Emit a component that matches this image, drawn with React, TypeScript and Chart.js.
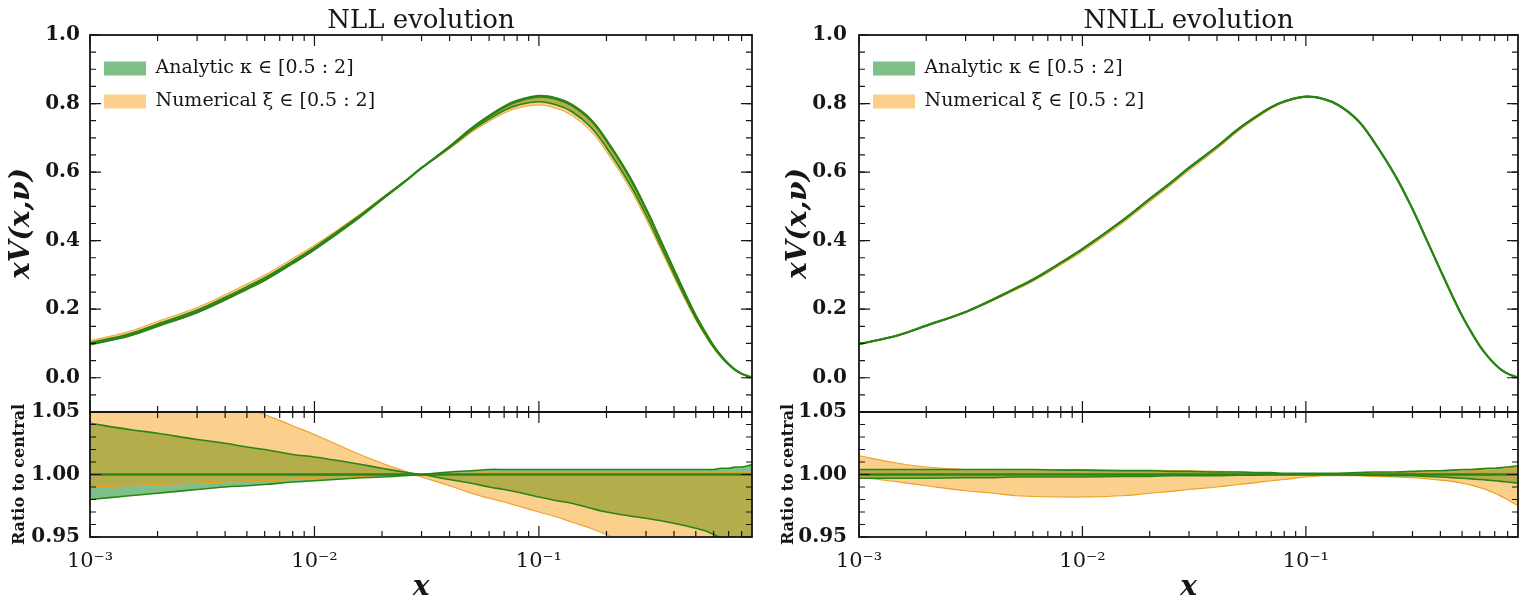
import React, { useEffect, useRef } from 'react';
import { Chart, registerables } from 'chart.js';

// ---------------- data ----------------
const X = [0.001, 0.0015, 0.002, 0.003, 0.004, 0.005, 0.006, 0.008, 0.01, 0.015, 0.02, 0.025, 0.03, 0.04, 0.05, 0.06, 0.07, 0.08, 0.1, 0.12, 0.14, 0.17, 0.2, 0.25, 0.3, 0.35, 0.4, 0.45, 0.5, 0.55, 0.6, 0.65, 0.7, 0.75, 0.8, 0.85, 0.89];

// central xV(x, nu)
const CENTRAL = [0.098, 0.124, 0.152, 0.192, 0.229, 0.26, 0.286, 0.335, 0.375, 0.457, 0.521, 0.57, 0.612, 0.674, 0.726, 0.762, 0.789, 0.806, 0.82, 0.813, 0.795, 0.752, 0.692, 0.592, 0.492, 0.397, 0.314, 0.242, 0.181, 0.133, 0.093, 0.063, 0.04, 0.023, 0.012, 0.005, 0.001];

// ratio-to-central band edges, NLL
const NLL_ANALYTIC_LO = [0.98, 0.983, 0.985, 0.988, 0.99, 0.991, 0.992, 0.994, 0.995, 0.997, 0.998, 0.999, 1.0, 1.002, 1.003, 1.004, 1.004, 1.004, 1.004, 1.004, 1.004, 1.004, 1.004, 1.004, 1.004, 1.004, 1.004, 1.004, 1.004, 1.004, 1.004, 1.005, 1.005, 1.006, 1.006, 1.007, 1.008];
const NLL_ANALYTIC_HI = [1.041, 1.036, 1.033, 1.028, 1.025, 1.022, 1.02, 1.016, 1.014, 1.009, 1.005, 1.002, 1.0, 0.996, 0.993, 0.99, 0.988, 0.986, 0.982, 0.979, 0.977, 0.973, 0.97, 0.967, 0.965, 0.963, 0.961, 0.959, 0.957, 0.955, 0.952, 0.949, 0.946, 0.943, 0.94, 0.937, 0.934];
const NLL_NUMERICAL_LO = [0.99, 0.991, 0.992, 0.993, 0.994, 0.995, 0.995, 0.996, 0.997, 0.998, 0.999, 0.9995, 1.0, 1.001, 1.001, 1.002, 1.002, 1.002, 1.002, 1.002, 1.002, 1.002, 1.002, 1.002, 1.002, 1.002, 1.002, 1.002, 1.002, 1.002, 1.002, 1.002, 1.002, 1.002, 1.002, 1.002, 1.002];
const NLL_NUMERICAL_HI = [1.105, 1.092, 1.082, 1.069, 1.06, 1.053, 1.048, 1.039, 1.032, 1.018, 1.009, 1.003, 0.998, 0.991, 0.985, 0.981, 0.978, 0.975, 0.97, 0.966, 0.962, 0.957, 0.952, 0.946, 0.941, 0.937, 0.933, 0.93, 0.927, 0.924, 0.921, 0.918, 0.915, 0.912, 0.909, 0.906, 0.904];

// ratio-to-central band edges, NNLL
const NNLL_ANALYTIC_LO = [0.997, 0.997, 0.997, 0.9975, 0.9975, 0.998, 0.998, 0.998, 0.998, 0.9985, 0.9985, 0.999, 0.999, 0.999, 0.9995, 0.9995, 1.0, 1.0, 1.0, 1.0, 1.0, 0.9995, 0.9995, 0.999, 0.999, 0.9985, 0.998, 0.9975, 0.997, 0.9965, 0.996, 0.9955, 0.995, 0.9945, 0.994, 0.9935, 0.993];
const NNLL_ANALYTIC_HI = [1.004, 1.004, 1.004, 1.004, 1.004, 1.004, 1.004, 1.0035, 1.0035, 1.003, 1.003, 1.0025, 1.0025, 1.002, 1.002, 1.0015, 1.0015, 1.001, 1.001, 1.001, 1.001, 1.0015, 1.002, 1.002, 1.0025, 1.003, 1.003, 1.0035, 1.004, 1.004, 1.0045, 1.005, 1.005, 1.0055, 1.006, 1.0065, 1.007];
const NNLL_NUMERICAL_LO = [0.998, 0.994, 0.991, 0.987, 0.985, 0.983, 0.9825, 0.982, 0.982, 0.983, 0.985, 0.9865, 0.988, 0.99, 0.992, 0.9935, 0.995, 0.996, 0.998, 0.999, 0.999, 0.999, 0.9985, 0.998, 0.9975, 0.9965, 0.9955, 0.9945, 0.993, 0.9915, 0.9895, 0.9875, 0.985, 0.9825, 0.98, 0.977, 0.975];
const NNLL_NUMERICAL_HI = [1.015, 1.009, 1.006, 1.004, 1.004, 1.004, 1.004, 1.004, 1.004, 1.0035, 1.0035, 1.003, 1.003, 1.0025, 1.002, 1.0015, 1.001, 1.0005, 1.0, 1.0, 1.0005, 1.001, 1.001, 1.0015, 1.002, 1.002, 1.0025, 1.0025, 1.003, 1.003, 1.0035, 1.0035, 1.004, 1.004, 1.0045, 1.0045, 1.005];

const X_MIN = 0.001;
const X_MAX = 0.89;
const X_TICKS = [0.001, 0.01, 0.1];
const X_TICK_LABELS = ['10\u207B\u00B3', '10\u207B\u00B2', '10\u207B\u00B9'];
const TOP_Y_TICKS = [0, 0.2, 0.4, 0.6, 0.8, 1.0];
const RATIO_Y_TICKS = [0.95, 1.0, 1.05];
const TOP_Y_RANGE = [-0.1, 1.0];
const RATIO_Y_RANGE = [0.95, 1.05];
const LEGEND_LABELS = ['Analytic \u03BA \u2208 [0.5 : 2]', 'Numerical \u03BE \u2208 [0.5 : 2]'];
const PANEL_TITLES = ['NLL evolution', 'NNLL evolution'];

// ---------------- styles ----------------
const GREEN_FILL = 'rgba(0,130,20,0.5)';
const ORANGE_FILL = 'rgba(245,150,0,0.45)';
const GREEN_LINE = '#2a8516';
const ORANGE_LINE = '#f0a22a';
const INK = '#161616';

// clip each dataset (incl. its fill) to its own sub-plot
const subplotClip = {
  id: 'subplotClip',
  beforeDatasetDraw(chart: any, args: any) {
    const meta = args.meta;
    const xs = chart.scales[meta.xAxisID];
    const ys = chart.scales[meta.yAxisID];
    const ctx = chart.ctx;
    ctx.save();
    ctx.beginPath();
    ctx.rect(xs.left, ys.top, xs.right - xs.left, ys.bottom - ys.top);
    ctx.clip();
  },
  afterDatasetDraw(chart: any) {
    chart.ctx.restore();
  },
};
Chart.register(subplotClip as any);
Chart.register(...registerables);
Chart.defaults.font.family = '"DejaVu Serif", serif';
Chart.defaults.color = INK;

const frameTicks = {
  id: 'frameTicks',
  afterDraw(chart: any) {
    const ctx = chart.ctx;
    const xs = chart.scales.x;
    const xMinor: number[] = [];
    for (let d = -3; d <= 0; d++) {
      for (let k = 2; k <= 9; k++) {
        const v = k * Math.pow(10, d);
        if (v > xs.min && v < xs.max) xMinor.push(v);
      }
    }
    const subplots = [
      { s: chart.scales.y, major: TOP_Y_TICKS, step: 0.05 },
      { s: chart.scales.yr, major: RATIO_Y_TICKS, step: 0.01 },
    ];
    ctx.save();
    ctx.strokeStyle = INK;
    for (const { s, major, step } of subplots) {
      const L = xs.left, R = xs.right, T = s.top, B = s.bottom;
      ctx.lineWidth = 1.2;
      const vt = (px: number, len: number) => {
        ctx.beginPath();
        ctx.moveTo(px, B); ctx.lineTo(px, B - len);
        ctx.moveTo(px, T); ctx.lineTo(px, T + len);
        ctx.stroke();
      };
      const ht = (py: number, len: number) => {
        ctx.beginPath();
        ctx.moveTo(L, py); ctx.lineTo(L + len, py);
        ctx.moveTo(R, py); ctx.lineTo(R - len, py);
        ctx.stroke();
      };
      for (const v of X_TICKS) vt(xs.getPixelForValue(v), 11);
      for (const v of xMinor) vt(xs.getPixelForValue(v), 6);
      const n = Math.round((s.max - s.min) / step);
      for (let i = 0; i <= n; i++) ht(s.getPixelForValue(s.min + i * step), 6);
      for (const v of major) ht(s.getPixelForValue(v), 11);
      ctx.lineWidth = 1.8;
      ctx.strokeRect(L, T, R - L, B - T);
    }
    ctx.restore();
  },
};

type PanelProps = {
  title: string;
  analytic: [number[], number[]];
  numerical: [number[], number[]];
  left: number;
  width: number;
  yWidth: number;
  padRight: number;
  yTitlePad: number;
  rTitlePad: number;
  tickPad: number;
};

function Panel(p: PanelProps) {
  const ref = useRef<HTMLCanvasElement | null>(null);
  useEffect(() => {
    const canvas = ref.current;
    if (!canvas) return;
    const pts = (vals: number[]) => X.map((x, i) => ({ x, y: vals[i] }));
    const scaled = (r: number[]) => X.map((x, i) => ({ x, y: CENTRAL[i] * r[i] }));
    const base: any = { pointRadius: 0, tension: 0.4, fill: false };
    const [aLo, aHi] = p.analytic;
    const [nLo, nHi] = p.numerical;
    const ratioCentral = [{ x: X[0], y: 1 }, { x: X[X.length - 1], y: 1 }];
    const datasets: any[] = [
      // ratio sub-plot
      { ...base, yAxisID: 'yr', data: pts(aLo), borderWidth: 0, borderColor: 'transparent', order: 100 },
      { ...base, yAxisID: 'yr', data: pts(aHi), borderWidth: 0, borderColor: 'transparent', fill: '-1', backgroundColor: GREEN_FILL, order: 99 },
      { ...base, yAxisID: 'yr', data: pts(nLo), borderWidth: 1.2, borderColor: ORANGE_LINE, order: 98 },
      { ...base, yAxisID: 'yr', data: pts(nHi), borderWidth: 1.2, borderColor: ORANGE_LINE, fill: '-1', backgroundColor: ORANGE_FILL, order: 97 },
      { ...base, yAxisID: 'yr', data: pts(aLo), borderWidth: 1.6, borderColor: GREEN_LINE, order: 96 },
      { ...base, yAxisID: 'yr', data: pts(aHi), borderWidth: 1.6, borderColor: GREEN_LINE, order: 95 },
      { ...base, yAxisID: 'yr', data: ratioCentral, borderWidth: 2.6, borderColor: GREEN_LINE, order: 94 },
      // main sub-plot
      { ...base, yAxisID: 'y', data: scaled(aLo), borderWidth: 0, borderColor: 'transparent', order: 90 },
      { ...base, yAxisID: 'y', data: scaled(aHi), borderWidth: 0, borderColor: 'transparent', fill: '-1', backgroundColor: GREEN_FILL, order: 89 },
      { ...base, yAxisID: 'y', data: scaled(nLo), borderWidth: 1, borderColor: ORANGE_LINE, order: 88 },
      { ...base, yAxisID: 'y', data: scaled(nHi), borderWidth: 1, borderColor: ORANGE_LINE, fill: '-1', backgroundColor: ORANGE_FILL, order: 87 },
      { ...base, yAxisID: 'y', data: scaled(aLo), borderWidth: 1.6, borderColor: GREEN_LINE, order: 86 },
      { ...base, yAxisID: 'y', data: scaled(aHi), borderWidth: 1.6, borderColor: GREEN_LINE, order: 85 },
      { ...base, yAxisID: 'y', data: pts(CENTRAL), borderWidth: 2.2, borderColor: GREEN_LINE, order: 84 },
    ];
    const legendColors = [GREEN_FILL, ORANGE_FILL];
    const chart = new Chart(canvas, {
      type: 'line',
      data: { datasets },
      options: {
        responsive: false,
        animation: false,
        events: [],
        layout: { padding: { left: 0, right: p.padRight, top: 0, bottom: 0 } },
        plugins: {
          tooltip: { enabled: false },
          title: {
            display: true,
            text: p.title,
            fullSize: false,
            color: INK,
            font: { size: 26, weight: 'normal', lineHeight: 1 },
            padding: { top: 8, bottom: 1 },
          },
          legend: {
            position: 'chartArea',
            align: 'start',
            title: { display: true, text: '', padding: { top: 36, bottom: 0 }, font: { size: 9, lineHeight: 1 } },
            labels: {
              boxWidth: 42,
              boxHeight: 14,
              padding: 14,
              color: INK,
              font: { size: 19 },
              generateLabels: () =>
                LEGEND_LABELS.map((t, i) => ({
                  text: t,
                  fillStyle: legendColors[i],
                  strokeStyle: legendColors[i],
                  lineWidth: 0,
                  hidden: false,
                  datasetIndex: i,
                  fontColor: INK,
                })),
            },
          },
        },
        scales: {
          x: {
            type: 'logarithmic',
            min: X_MIN,
            max: X_MAX,
            position: 'bottom',
            grid: { display: false, drawTicks: false },
            border: { display: false },
            afterBuildTicks: (s: any) => { s.ticks = X_TICKS.map((v) => ({ value: v })); },
            afterFit: (s: any) => { s.height = 65; },
            ticks: {
              autoSkip: false,
              maxRotation: 0,
              padding: 12,
              color: INK,
              font: { size: 21 },
              callback: (_v: any, i: number) => X_TICK_LABELS[i],
            },
            title: {
              display: true,
              text: 'x',
              color: INK,
              font: { size: 28, weight: 'bold', style: 'italic', lineHeight: 1 },
              padding: { top: 0, bottom: 0 },
            },
          },
          y: {
            type: 'linear',
            min: TOP_Y_RANGE[0],
            max: TOP_Y_RANGE[1],
            position: 'left',
            stack: 'v',
            stackWeight: 377,
            weight: 2,
            grid: { display: false, drawTicks: false },
            border: { display: false },
            afterBuildTicks: (s: any) => { s.ticks = TOP_Y_TICKS.map((v) => ({ value: v })); },
            afterFit: (s: any) => { s.width = p.yWidth; },
            ticks: {
              autoSkip: false,
              padding: p.tickPad,
              color: INK,
              font: { size: 20, weight: 'bold' },
              callback: (v: any) => Number(v).toFixed(1),
            },
            title: {
              display: true,
              text: 'xV(x,\u03BD)',
              color: INK,
              font: { size: 28, weight: 'bold', style: 'italic', lineHeight: 1.2 },
              padding: { top: p.yTitlePad, bottom: 0 },
            },
          },
          yr: {
            type: 'linear',
            min: RATIO_Y_RANGE[0],
            max: RATIO_Y_RANGE[1],
            position: 'left',
            stack: 'v',
            stackWeight: 125,
            weight: 1,
            grid: { display: false, drawTicks: false },
            border: { display: false },
            afterBuildTicks: (s: any) => { s.ticks = RATIO_Y_TICKS.map((v) => ({ value: v })); },
            afterFit: (s: any) => { s.width = p.yWidth; },
            ticks: {
              autoSkip: false,
              padding: p.tickPad,
              color: INK,
              font: { size: 20, weight: 'bold' },
              callback: (v: any) => Number(v).toFixed(2),
            },
            title: {
              display: true,
              text: 'Ratio to central',
              color: INK,
              font: { size: 16, weight: 'bold', lineHeight: 1.2 },
              padding: { top: p.rTitlePad, bottom: 0 },
            },
          },
        },
      } as any,
      plugins: [frameTicks as any],
    });
    return () => chart.destroy();
  }, []);
  return (
    <canvas
      ref={ref}
      width={p.width}
      height={602}
      style={{ position: 'absolute', left: p.left, top: 0, width: p.width, height: 602 }}
    />
  );
}

export default function App() {
  return (
    <div style={{ position: 'fixed', left: 0, top: 0, width: 1520, height: 602, background: '#ffffff' }}>
      <Panel
        title={PANEL_TITLES[0]}
        analytic={[NLL_ANALYTIC_LO, NLL_ANALYTIC_HI]}
        numerical={[NLL_NUMERICAL_LO, NLL_NUMERICAL_HI]}
        left={0}
        width={760}
        yWidth={90}
        padRight={8}
        yTitlePad={5}
        rTitlePad={10}
        tickPad={10}
      />
      <Panel
        title={PANEL_TITLES[1]}
        analytic={[NNLL_ANALYTIC_LO, NNLL_ANALYTIC_HI]}
        numerical={[NNLL_NUMERICAL_LO, NNLL_NUMERICAL_HI]}
        left={766}
        width={754}
        yWidth={93}
        padRight={2}
        yTitlePad={16}
        rTitlePad={13}
        tickPad={12}
      />
    </div>
  );
}
